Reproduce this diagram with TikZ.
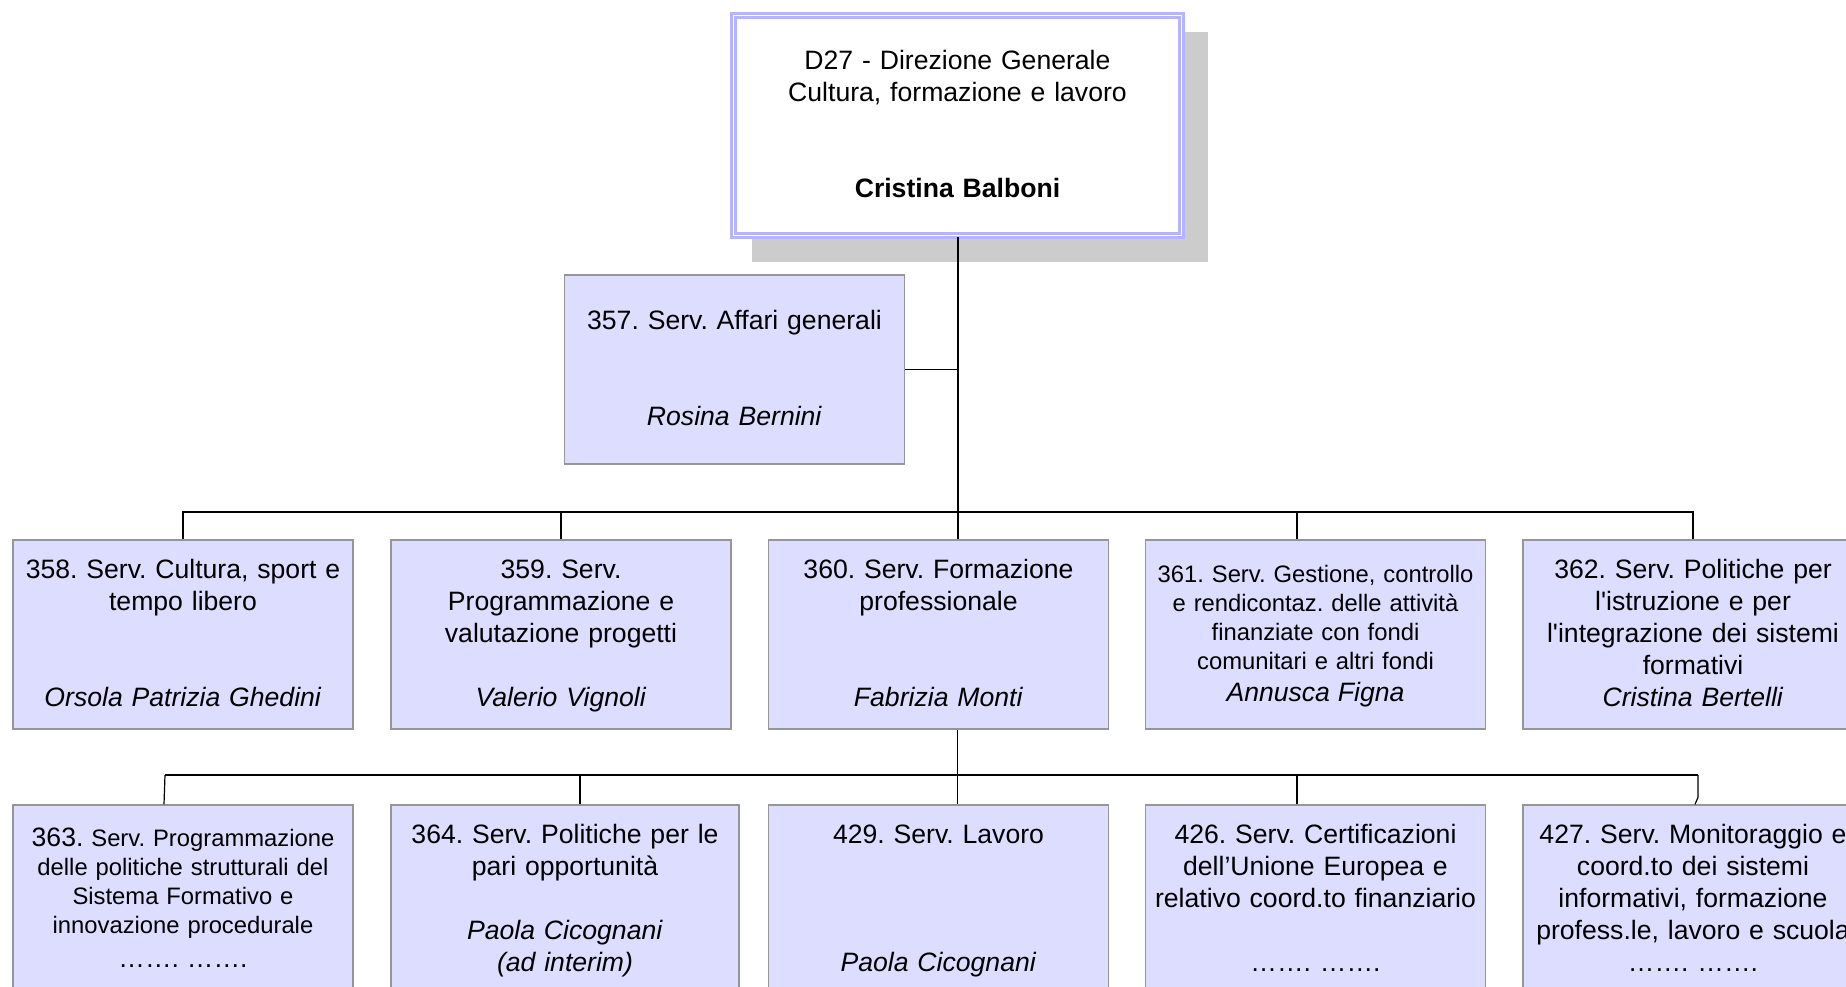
\documentclass[tikz,border=0pt]{standalone}
\usepackage{fontspec}
\setmainfont{Liberation Sans}
\frenchspacing
\definecolor{boxfill}{RGB}{221,221,255}
\definecolor{boxline}{RGB}{150,150,150}
\definecolor{headline}{RGB}{180,180,255}
\definecolor{shadowgray}{RGB}{204,204,204}
\newcommand{\normalsz}{\fontsize{13.3}{16}\selectfont}
\newcommand{\smallsz}{\fontsize{11.9}{14.5}\selectfont}
\begin{document}
\begin{tikzpicture}[x=0.5pt,y=-0.5pt,
  unit/.style={draw=boxline,line width=0.7pt,fill=boxfill,minimum width=170pt,
    minimum height=94.5pt,inner sep=0pt,text width=168pt,align=center,font=\normalsz,
    execute at begin node={\noindent\rule{0pt}{\dimexpr0.7\baselineskip+2pt\relax}},
    execute at end node=\strut},
  smallunit/.style={unit,font=\smallsz},
  head/.style={unit,draw=headline,fill=white,double=white,double distance=0.8pt,
    line width=1.3pt,minimum width=224pt,text width=220pt,minimum height=110pt},
  trunk/.style={line width=1pt},
  bar/.style={line width=0.75pt},
  drop/.style={line width=0.6pt}]
\clip (0,0) rectangle (1846,986);
% shadow of the direction box
\fill[shadowgray] (752,32) rectangle (1208,262);
\node[head] (dg) at (957.5,125.5) {D27 - Direzione Generale\\ Cultura, formazione e lavoro\\[32pt] \textbf{Cristina Balboni}};
\node[unit] (s357) at (734.5,369.5) {357. Serv. Affari generali\\[32pt] \textit{Rosina Bernini}};
% first level
\node[unit] (s358) at (183,634.5) {358. Serv. Cultura, sport e\\ tempo libero\\[32pt] \textit{Orsola Patrizia Ghedini}};
\node[unit] (s359) at (561,634.5) {359. Serv.\\ Programmazione e\\ valutazione progetti\\[16pt] \textit{Valerio Vignoli}};
\node[unit] (s360) at (938.5,634.5) {360. Serv. Formazione\\ professionale\\[32pt] \textit{Fabrizia Monti}};
\node[smallunit] (s361) at (1315.5,634.5) {361. Serv. Gestione, controllo\\ e rendicontaz. delle attività\\ finanziate con fondi\\ comunitari e altri fondi\\[1.5pt] {\normalsz\itshape Annusca Figna}};
\node[unit] (s362) at (1693,634.5) {362. Serv. Politiche per\\ l\textquotesingle istruzione e per\\ l\textquotesingle integrazione dei sistemi\\ formativi\\ \textit{Cristina Bertelli}};
% second level
\node[smallunit] (s363) at (183,899.5) {{\normalsz 363.} Serv. Programmazione\\ delle politiche strutturali del\\ Sistema Formativo e\\ innovazione procedurale\\[2.5pt] {\normalsz ……. …….}};
\node[unit,minimum width=174pt,text width=172pt] (s364) at (565,899.5) {364. Serv. Politiche per le\\ pari opportunità\\[16pt] \textit{Paola Cicognani}\\ \textit{(ad interim)}};
\node[unit] (s429) at (938.5,899.5) {429. Serv. Lavoro\\[48pt] \textit{Paola Cicognani}};
\node[unit] (s426) at (1315.5,899.5) {426. Serv. Certificazioni\\ dell’Unione Europea e\\ relativo coord.to finanziario\\[16pt] ……. …….};
\node[unit] (s427) at (1693,899.5) {427. Serv. Monitoraggio e\\ coord.to dei sistemi\\ informativi, formazione\\ profess.le, lavoro e scuola\\ ……. …….};
% connectors
\coordinate (bar1) at (957,512);
\coordinate (bar2) at (957,775);
\draw[trunk] (dg.south) -- (dg.south |- s360.north);
\draw[bar] (s357.east) -- (s357.east -| dg.south);
\draw[bar] (s358.north) -- (s358.north |- bar1) -- (s362.north |- bar1) -- (s362.north);
\draw[drop] (s359.north) -- (s359.north |- bar1);
\draw[drop] ([xshift=-9.25pt]s361.north) -- ([xshift=-9.25pt]s361.north |- bar1);
\draw[drop] (s360.south -| dg.south) -- (bar2 -| dg.south) -- (s429.north -| dg.south);
\draw[bar] ([xshift=-9pt]s363.north |- bar2) -- ([xshift=2.5pt]s427.north |- bar2);
\draw[drop] ([xshift=-9pt]s363.north |- bar2) -- ([xshift=-9.5pt]s363.north);
\draw[drop] ([xshift=7.5pt]s364.north) -- ([xshift=7.5pt]s364.north |- bar2);
\draw[drop] ([xshift=-9.25pt]s426.north) -- ([xshift=-9.25pt]s426.north |- bar2);
\draw[drop] ([xshift=2.5pt]s427.north |- bar2) -- ([xshift=2.5pt,yshift=3.5pt]s427.north) -- ([xshift=1pt]s427.north);
\end{tikzpicture}
\end{document}
